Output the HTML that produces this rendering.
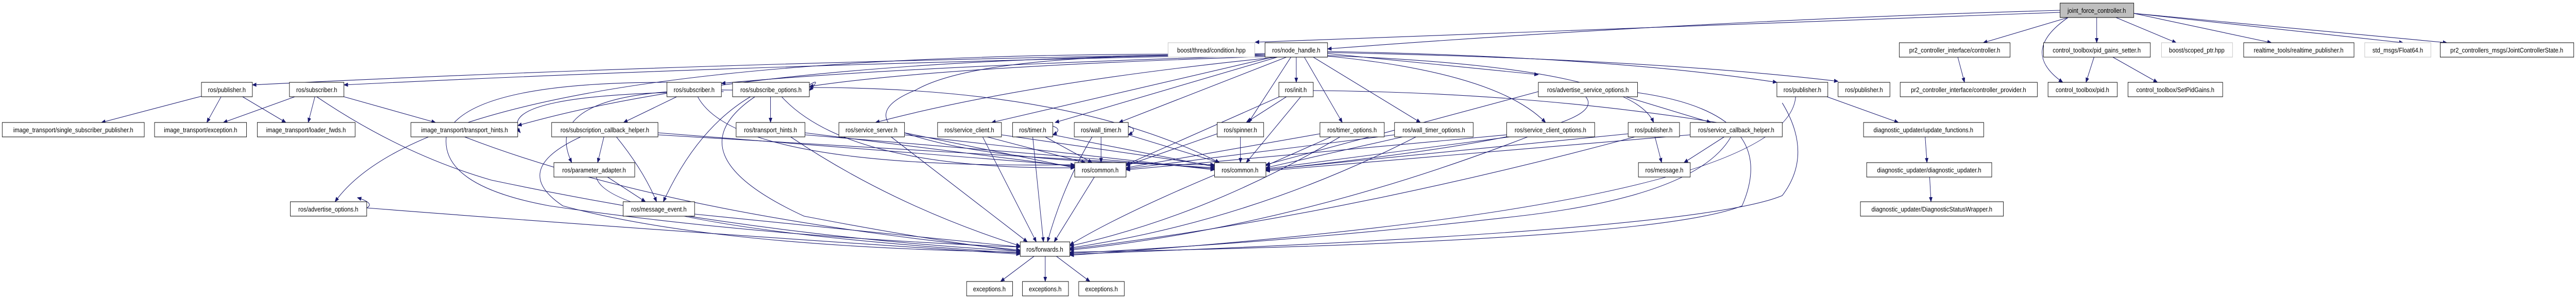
<!DOCTYPE html>
<html><head><meta charset="utf-8"><style>
html,body{margin:0;padding:0;background:#fff;width:100%;height:100%;overflow:hidden;}
svg{display:block;position:absolute;left:0;top:0;width:100vw;height:100vh}
text{font-family:"Liberation Sans",sans-serif;font-size:13px;fill:#000}
.e{fill:none;stroke:#191970;stroke-width:1.1}
</style></head><body>
<svg viewBox="0 0 5767 581" preserveAspectRatio="none" xmlns="http://www.w3.org/2000/svg">
<defs><marker id="ah" markerWidth="10" markerHeight="8" refX="9" refY="4" orient="auto" markerUnits="userSpaceOnUse"><path d="M0,0 L10,4 L0,8 z" fill="#191970"/></marker></defs>
<g class="e" marker-end="url(#ah)">
<path d="M4612,20 Q3800,40 2972,95"/>
<path d="M4612,24 Q3700,50 2810,82"/>
<path d="M4630,34 L4440,83"/>
<path d="M4694,34 L4694,83"/>
<path d="M4630,34 Q4520,100 4618,160"/>
<path d="M4737,34 L4872,83"/>
<path d="M4777,26 L5085,83"/>
<path d="M4777,26 L5380,83"/>
<path d="M4777,26 L5478,83"/>
<path d="M4383,111 L4398,160"/>
<path d="M4688,111 L4670,160"/>
<path d="M4730,111 L4830,160"/>
<path d="M4090,188 L4250,238"/>
<path d="M4310,266 L4314,316"/>
<path d="M4320,344 L4323,392"/>
<path d="M2972,100 Q3600,110 3978,160"/>
<path d="M2972,102 Q3700,115 4115,158"/>
<path d="M2832,104 Q1600,120 565,165"/>
<path d="M2832,106 Q1700,125 770,165"/>
<path d="M2832,108 Q2000,130 1615,162"/>
<path d="M2832,110 Q2100,130 1812,168"/>
<path d="M2860,111 Q2300,160 1960,238"/>
<path d="M2850,111 L2220,238"/>
<path d="M2860,111 L2362,238"/>
<path d="M2880,111 L2505,238"/>
<path d="M2902,111 L2902,160"/>
<path d="M2890,111 L2795,238"/>
<path d="M2920,111 L3005,238"/>
<path d="M2940,111 L3180,238"/>
<path d="M2960,108 Q3350,140 3460,238"/>
<path d="M2972,104 L3444,145"/>
<path d="M2972,108 Q3650,130 3702,238"/>
<path d="M2832,108 Q2200,100 2050,175 Q1950,210 2000,250 Q2200,320 2719,320"/>
<path d="M2832,106 Q1000,90 750,392"/>
<path d="M2832,106 Q1700,110 1159,244"/>
<path d="M2880,188 L2790,238"/>
<path d="M2872,185 L2521,320"/>
<path d="M2912,188 L2790,316"/>
<path d="M2940,176 Q3500,180 3990,260"/>
<path d="M451,187 L227,238"/>
<path d="M495,188 L463,238"/>
<path d="M543,188 L640,238"/>
<path d="M660,188 L500,238"/>
<path d="M705,188 L690,238"/>
<path d="M770,188 L975,238"/>
<path d="M1515,188 L1396,238"/>
<path d="M1562,188 Q1650,330 2406,320"/>
<path d="M1493,160 Q1050,160 1000,260 Q980,360 1230,400 Q1700,460 2284,480"/>
<path d="M1725,188 L1725,238"/>
<path d="M1680,188 Q1560,250 1485,392"/>
<path d="M1640,175 Q1200,170 1280,316"/>
<path d="M1750,188 Q1900,330 2406,326"/>
<path d="M1690,188 Q1500,300 1800,420 Q2100,470 2284,488"/>
<path d="M1812,165 Q1840,150 1812,176"/>
<path d="M1812,170 Q2400,170 2730,316"/>
<path d="M1620,178 Q1100,180 1165,258"/>
<path d="M1352,266 L1338,316"/>
<path d="M1380,266 Q1440,330 1470,392"/>
<path d="M1300,266 Q1140,330 1260,400 Q1600,480 2284,490"/>
<path d="M1473,258 L2406,322"/>
<path d="M1473,262 L2719,326"/>
<path d="M1360,344 L1445,392"/>
<path d="M1335,344 Q1360,440 2284,492"/>
<path d="M1555,416 L2284,480"/>
<path d="M821,404 Q1500,450 2284,494"/>
<path d="M821,404 Q840,395 800,384"/>
<path d="M1802,258 L2406,324"/>
<path d="M1802,262 L2719,328"/>
<path d="M1770,266 Q2000,400 2284,478"/>
<path d="M2025,258 L2406,326"/>
<path d="M2025,262 L2719,330"/>
<path d="M1995,266 L2300,470"/>
<path d="M2200,266 L2320,470"/>
<path d="M2210,266 L2430,316"/>
<path d="M2242,262 L2719,322"/>
<path d="M2312,266 L2336,470"/>
<path d="M2340,266 L2445,316"/>
<path d="M2357,262 L2719,324"/>
<path d="M2357,245 Q2380,252 2357,262"/>
<path d="M2465,266 L2465,316"/>
<path d="M2445,266 Q2380,360 2345,470"/>
<path d="M2526,262 L2730,316"/>
<path d="M2526,245 Q2550,252 2526,262"/>
<path d="M2725,260 L2521,322"/>
<path d="M2777,266 L2777,316"/>
<path d="M2955,260 L2521,326"/>
<path d="M2980,266 L2834,322"/>
<path d="M3000,266 Q2700,420 2395,478"/>
<path d="M3122,262 L2521,328"/>
<path d="M3140,266 L2834,326"/>
<path d="M3170,266 Q2800,430 2395,482"/>
<path d="M3373,262 L2521,330"/>
<path d="M3380,266 L2834,328"/>
<path d="M3420,266 Q2900,440 2395,486"/>
<path d="M3444,178 L2834,320"/>
<path d="M3550,188 Q3620,260 2834,330"/>
<path d="M3640,188 L3830,238"/>
<path d="M3666,180 Q3990,220 3900,400 Q3700,470 2395,490"/>
<path d="M3645,260 L2834,330"/>
<path d="M3660,266 Q3000,420 2395,484"/>
<path d="M3705,266 L3720,316"/>
<path d="M3784,262 L2834,332"/>
<path d="M3860,266 L3770,316"/>
<path d="M3875,266 Q3800,380 3400,420 Q2900,470 2395,492"/>
<path d="M3990,200 Q4060,300 3990,380 Q3800,450 2395,494"/>
<path d="M4020,188 Q4000,400 2395,496"/>
<path d="M2450,344 L2360,470"/>
<path d="M2719,340 Q2500,420 2395,476"/>
<path d="M1040,266 Q1500,420 2284,486"/>
<path d="M709,188 Q900,300 1100,350 Q1700,460 2284,488"/>
<path d="M2315,498 L2240,547"/>
<path d="M2340,498 L2340,547"/>
<path d="M2365,498 L2440,547"/>
</g>
<g stroke-width="1" fill="#fff">
<rect x="4612" y="6" width="165" height="28" fill="#bfbfbf" stroke="#000"/>
<rect x="2615" y="83" width="194" height="28" stroke="#bfbfbf"/>
<rect x="4839" y="83" width="159" height="28" stroke="#bfbfbf"/>
<rect x="5294" y="83" width="148" height="28" stroke="#bfbfbf"/>
<g stroke="#000">
<rect x="451" y="160" width="114" height="28"/>
<rect x="648" y="160" width="122" height="28"/>
<rect x="5" y="238" width="318" height="28"/>
<rect x="346" y="238" width="206" height="28"/>
<rect x="576" y="238" width="219" height="28"/>
<rect x="920" y="238" width="239" height="28"/>
<rect x="650" y="392" width="171" height="28"/>
<rect x="1493" y="160" width="122" height="28"/>
<rect x="1640" y="160" width="172" height="28"/>
<rect x="1235" y="238" width="238" height="28"/>
<rect x="1648" y="238" width="154" height="28"/>
<rect x="1878" y="238" width="147" height="28"/>
<rect x="1240" y="316" width="181" height="28"/>
<rect x="1395" y="392" width="160" height="28"/>
<rect x="2832" y="83" width="140" height="28"/>
<rect x="2863" y="160" width="77" height="28"/>
<rect x="2099" y="238" width="143" height="28"/>
<rect x="2267" y="238" width="90" height="28"/>
<rect x="2405" y="238" width="121" height="28"/>
<rect x="2725" y="238" width="104" height="28"/>
<rect x="2955" y="238" width="144" height="28"/>
<rect x="2406" y="316" width="115" height="28"/>
<rect x="2719" y="316" width="115" height="28"/>
<rect x="2284" y="470" width="111" height="28"/>
<rect x="2164" y="547" width="103" height="28"/>
<rect x="2289" y="547" width="103" height="28"/>
<rect x="2415" y="547" width="102" height="28"/>
<rect x="3122" y="238" width="176" height="28"/>
<rect x="3373" y="238" width="197" height="28"/>
<rect x="3444" y="160" width="222" height="28"/>
<rect x="3645" y="238" width="115" height="28"/>
<rect x="3784" y="238" width="206" height="28"/>
<rect x="3668" y="316" width="116" height="28"/>
<rect x="3978" y="160" width="114" height="28"/>
<rect x="4115" y="160" width="116" height="28"/>
<rect x="4252" y="83" width="248" height="28"/>
<rect x="4575" y="83" width="239" height="28"/>
<rect x="4254" y="160" width="307" height="28"/>
<rect x="4585" y="160" width="155" height="28"/>
<rect x="4764" y="160" width="212" height="28"/>
<rect x="4172" y="238" width="269" height="28"/>
<rect x="4179" y="316" width="280" height="28"/>
<rect x="4165" y="392" width="320" height="28"/>
<rect x="5023" y="83" width="247" height="28"/>
<rect x="5463" y="83" width="299" height="28"/>
</g></g>
<g text-anchor="middle">
<text x="4694" y="25">joint_force_controller.h</text>
<text x="2712" y="102">boost/thread/condition.hpp</text>
<text x="4918" y="102">boost/scoped_ptr.hpp</text>
<text x="5368" y="102">std_msgs/Float64.h</text>
<text x="508" y="179">ros/publisher.h</text>
<text x="709" y="179">ros/subscriber.h</text>
<text x="164" y="257">image_transport/single_subscriber_publisher.h</text>
<text x="449" y="257">image_transport/exception.h</text>
<text x="685" y="257">image_transport/loader_fwds.h</text>
<text x="1040" y="257">image_transport/transport_hints.h</text>
<text x="735" y="411">ros/advertise_options.h</text>
<text x="1554" y="179">ros/subscriber.h</text>
<text x="1726" y="179">ros/subscribe_options.h</text>
<text x="1354" y="257">ros/subscription_callback_helper.h</text>
<text x="1725" y="257">ros/transport_hints.h</text>
<text x="1951" y="257">ros/service_server.h</text>
<text x="1330" y="335">ros/parameter_adapter.h</text>
<text x="1475" y="411">ros/message_event.h</text>
<text x="2902" y="102">ros/node_handle.h</text>
<text x="2901" y="179">ros/init.h</text>
<text x="2170" y="257">ros/service_client.h</text>
<text x="2312" y="257">ros/timer.h</text>
<text x="2465" y="257">ros/wall_timer.h</text>
<text x="2777" y="257">ros/spinner.h</text>
<text x="3027" y="257">ros/timer_options.h</text>
<text x="2463" y="335">ros/common.h</text>
<text x="2776" y="335">ros/common.h</text>
<text x="2339" y="489">ros/forwards.h</text>
<text x="2215" y="566">exceptions.h</text>
<text x="2340" y="566">exceptions.h</text>
<text x="2466" y="566">exceptions.h</text>
<text x="3210" y="257">ros/wall_timer_options.h</text>
<text x="3471" y="257">ros/service_client_options.h</text>
<text x="3555" y="179">ros/advertise_service_options.h</text>
<text x="3702" y="257">ros/publisher.h</text>
<text x="3887" y="257">ros/service_callback_helper.h</text>
<text x="3726" y="335">ros/message.h</text>
<text x="4035" y="179">ros/publisher.h</text>
<text x="4173" y="179">ros/publisher.h</text>
<text x="4376" y="102">pr2_controller_interface/controller.h</text>
<text x="4694" y="102">control_toolbox/pid_gains_setter.h</text>
<text x="4407" y="179">pr2_controller_interface/controller_provider.h</text>
<text x="4662" y="179">control_toolbox/pid.h</text>
<text x="4870" y="179">control_toolbox/SetPidGains.h</text>
<text x="4306" y="257">diagnostic_updater/update_functions.h</text>
<text x="4319" y="335">diagnostic_updater/diagnostic_updater.h</text>
<text x="4325" y="411">diagnostic_updater/DiagnosticStatusWrapper.h</text>
<text x="5146" y="102">realtime_tools/realtime_publisher.h</text>
<text x="5612" y="102">pr2_controllers_msgs/JointControllerState.h</text>
</g>
</svg>
</body></html>
